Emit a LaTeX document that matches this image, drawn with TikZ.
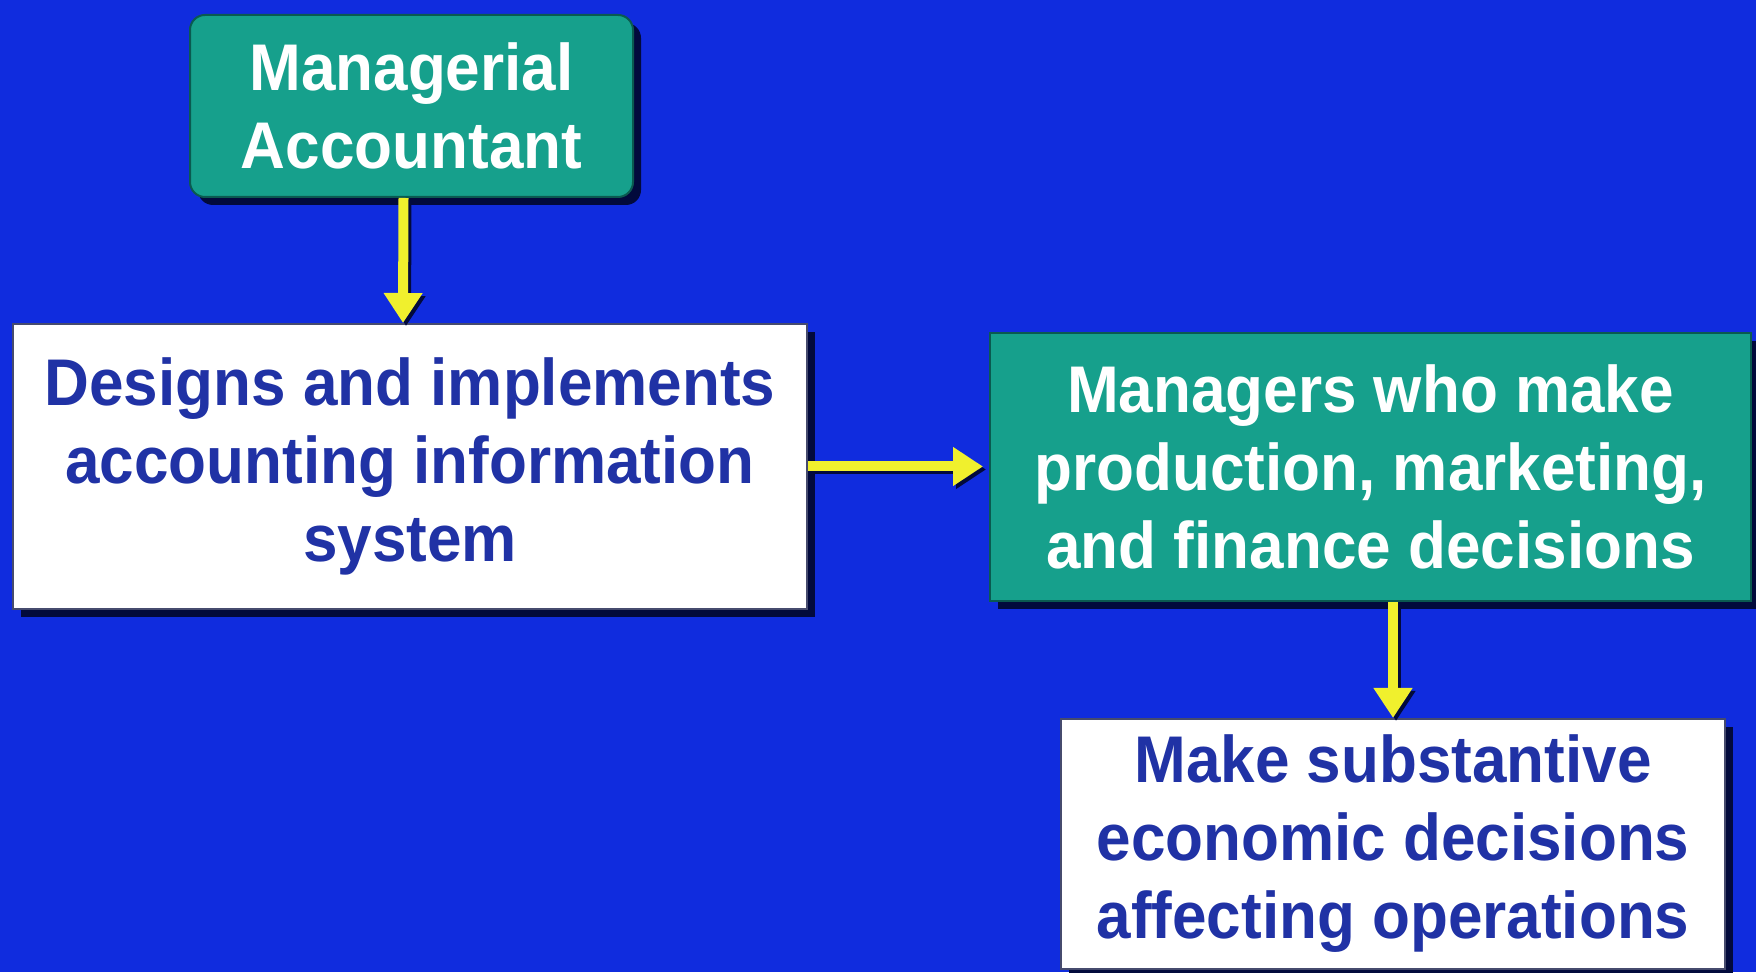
\documentclass[tikz,border=0pt]{standalone}
\usepackage{fontspec}
\setmainfont{Liberation Sans}[FakeStretch=0.94]
\usetikzlibrary{arrows.meta,shadows,calc}
\definecolor{bgblue}{RGB}{16,44,222}
\definecolor{tealfill}{RGB}{22,160,140}
\definecolor{tealdark}{RGB}{10,90,80}
\definecolor{shadowc}{RGB}{2,10,60}
\definecolor{textblue}{RGB}{32,50,165}
\definecolor{edgegray}{RGB}{70,75,110}
\definecolor{arrowyellow}{RGB}{240,240,45}
\tikzset{
  bigtext/.style={font=\fontsize{66}{78}\selectfont\bfseries, align=center, inner sep=0pt},
  tealbox/.style={bigtext, fill=tealfill, draw=tealdark, line width=2pt, text=white,
    drop shadow={shadow xshift=8pt, shadow yshift=-8pt, opacity=1, fill=shadowc}},
  whitebox/.style={bigtext, fill=white, draw=edgegray, line width=2pt, text=textblue,
    drop shadow={shadow xshift=8pt, shadow yshift=-8pt, opacity=1, fill=shadowc}},
  arrowshadow/.style={draw=shadowc, line width=10pt, -{Triangle[width=37pt,length=30pt]},
    transform canvas={xshift=3pt,yshift=-3pt}},
  yarrow/.style={draw=arrowyellow, line width=10pt, -{Triangle[width=37pt,length=30pt]}}
}
\begin{document}
\begin{tikzpicture}[x=1pt,y=1pt]
\useasboundingbox (0,0) rectangle (1756,972);
\fill[bgblue] (0,0) rectangle (1756,972);

\node[tealbox, rounded corners=15pt, minimum width=443pt, minimum height=182pt] (b1) at (411.5,866) {Managerial\\Accountant};
\node[whitebox, minimum width=794pt, minimum height=285pt] (b2) at (410,505.5) {Designs and implements\\accounting information\\system};
\node[tealbox, minimum width=761pt, minimum height=268pt] (b3) at (1370.5,505) {Managers who make\\production, marketing,\\and finance decisions};
\node[whitebox, minimum width=664pt, minimum height=250pt] (b4) at (1393,128) {Make substantive\\economic decisions\\affecting operations};

\coordinate (a1s) at ($(b1.south)+(-8,0)$);
\coordinate (a1e) at ($(b2.north)+(-7,0)$);
\draw[arrowshadow] (a1s) -- (a1e);
\draw[yarrow] (a1s) -- (a1e);

\draw[arrowshadow, shorten >=6pt] (b2.east) -- (b2.east -| b3.west);
\draw[yarrow, shorten >=6pt] (b2.east) -- (b2.east -| b3.west);

\draw[arrowshadow] (b3.south -| b4.north) -- (b4.north);
\draw[yarrow] (b3.south -| b4.north) -- (b4.north);
\end{tikzpicture}
\end{document}
